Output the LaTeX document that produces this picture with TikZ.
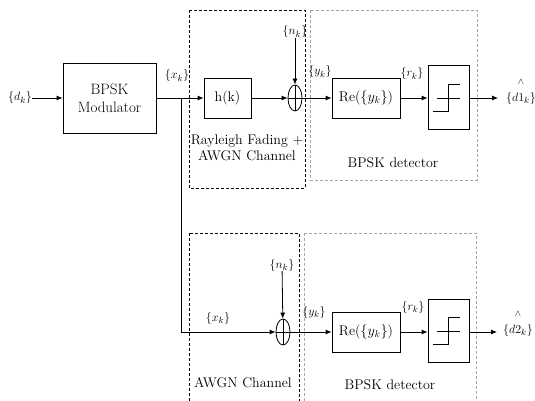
\documentclass[tikz,border=0pt]{standalone}
\usetikzlibrary{arrows.meta,shapes.geometric,calc}
\begin{document}
\begin{tikzpicture}[x=1pt,y=-1pt,
  blk/.style={draw,thick,inner sep=0pt},
  lbl/.style={inner sep=0pt,font=\fontsize{13}{15}\selectfont},
  sumnode/.style={draw,ellipse,inner sep=0pt,minimum width=14pt,minimum height=26pt},
  arr/.style={-{Latex[length=6pt,width=5pt]},thick},
  dbox/.style={thick,dash pattern=on 3pt off 2pt},
  gbox/.style={thick,gray!70,dash pattern=on 3pt off 2pt},
  every node/.style={font=\fontsize{14}{16}\selectfont}]
\useasboundingbox (0,0) rectangle (535,401);
\clip (0,0) rectangle (535,401);
\fill[white] (0,0) rectangle (535,401);
% dashed boxes
\draw[dbox] (189,10) rectangle (305,188);
\draw[gbox] (310,10) rectangle (477,180);
\draw[dbox] (189,233) rectangle (299,410);
\draw[gbox] (304,233) rectangle (476,410);
% top chain
\node[lbl] (dk) at (20,98) {$\{d_k\}$};
\node[blk,minimum width=93pt,minimum height=70pt,align=center,font=\fontsize{15}{18}\selectfont] (mod) at (109.5,98) {BPSK\\Modulator};
\coordinate (j) at (181,98);
\node[blk,minimum width=47pt,minimum height=40pt] (h) at (227.5,98) {h(k)};
\node[sumnode,thick] (s1) at (295,98) {};
\node[lbl] (n1) at (295,32) {$\{n_k\}$};
\node[blk,minimum width=68pt,minimum height=40pt] (re1) at (366,98) {Re($\{y_k\}$)};
\node[blk,minimum width=41pt,minimum height=64pt] (t1) at (448.5,97) {};
\coordinate (o1) at (498,98);
\node[lbl,align=center] (d1) at (521,92) {$\scriptstyle\wedge$\\[2pt]$\{d1_k\}$};
\node[lbl] (x1) at (177,76) {$\{x_k\}$};
\node[lbl] (y1) at (320,72) {$\{y_k\}$};
\node[lbl] (r1) at (412,74) {$\{r_k\}$};
\node[align=center] (c1) at (247,148) {Rayleigh Fading +\\AWGN Channel};
\node (b1) at (393,163) {BPSK detector};
\draw[arr] (dk) -- (mod);
\draw[thick] (mod) -- (j);
\draw[arr] (j) -- (h);
\draw[arr] (h) -- (s1);
\draw[thick] (s1.north) -- (s1.south) (s1.west) -- (s1.east);
\draw[arr] (n1) -- (s1);
\draw[arr] (s1) -- (re1);
\draw[arr] (re1) -- (re1 -| t1.west);
\draw[arr] (t1.east |- o1) -- (o1);
\draw[thick] ($(t1.center)+(-11.5,1)$) -- ++(23,0);
\draw[thick] ($(t1.center)+(-15.5,14)$) -- ++(15,0) -- ++(0,-27) -- ++(12,0);
% bottom chain
\coordinate (j2) at (181,332);
\draw[thick] (j) -- (j2);
\node[sumnode,thick] (s2) at (283,332) {};
\node[lbl] (n2) at (282,265) {$\{n_k\}$};
\node[blk,minimum width=68pt,minimum height=40pt] (re2) at (366,332) {Re($\{y_k\}$)};
\node[blk,minimum width=41pt,minimum height=63pt] (t2) at (448.5,330.5) {};
\coordinate (o2) at (497,332);
\node[lbl,align=center] (d2) at (518,324) {$\scriptstyle\wedge$\\[2pt]$\{d2_k\}$};
\node[lbl] (x2) at (218,318) {$\{x_k\}$};
\node[lbl] (y2) at (314,312) {$\{y_k\}$};
\node[lbl] (r2) at (413,307) {$\{r_k\}$};
\node (c2) at (243,383) {AWGN Channel};
\node (b2) at (390,385) {BPSK detector};
\draw[arr] (j2) -- (s2);
\draw[thick] (s2.north) -- (s2.south) (s2.west) -- (s2.east);
\draw[arr] (n2) -- (s2);
\draw[arr] (s2) -- (re2);
\draw[arr] (re2) -- (re2 -| t2.west);
\draw[arr] (t2.east |- o2) -- (o2);
\draw[thick] ($(t2.center)+(-11.5,1)$) -- ++(23,0);
\draw[thick] ($(t2.center)+(-15.5,14)$) -- ++(15,0) -- ++(0,-27) -- ++(12,0);
\end{tikzpicture}
\end{document}
